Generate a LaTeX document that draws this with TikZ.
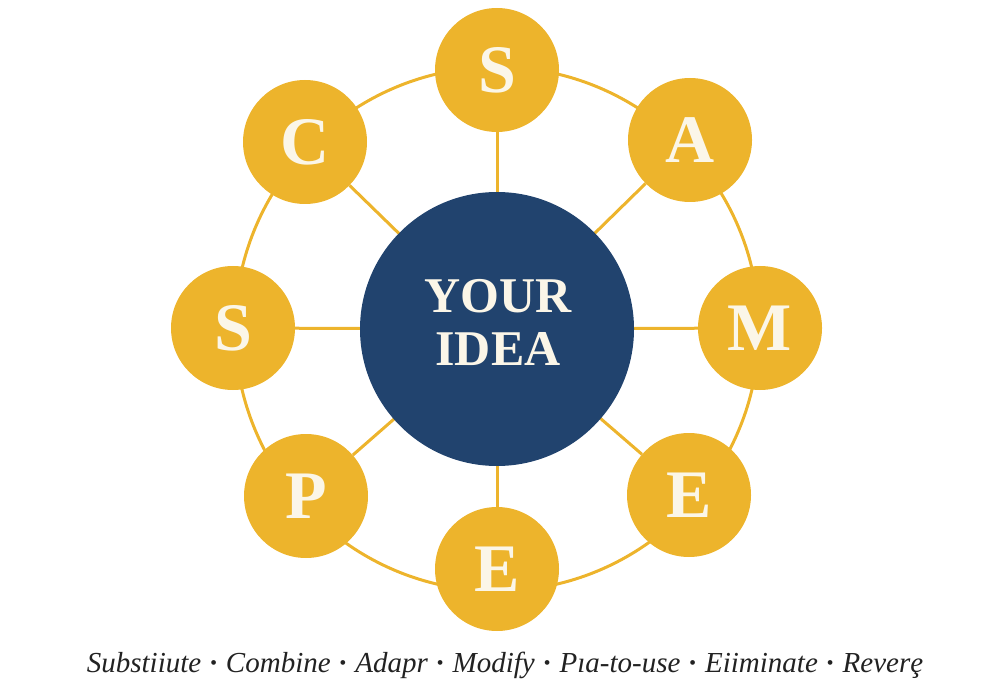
\documentclass[tikz,border=0pt]{standalone}
\usepackage{fontspec}
\setmainfont{Liberation Serif}
\definecolor{gold}{HTML}{EDB42C}
\definecolor{navy}{HTML}{21436E}
\definecolor{cream}{HTML}{FBF6E8}
\definecolor{ink}{HTML}{222222}
\newcommand{\sepdot}{\hspace{0.26em}{\upshape\bfseries ·}\hspace{0.26em}}
\begin{document}
\begin{tikzpicture}[x=1pt,y=-1pt,
  petal/.style={circle,fill=gold,minimum size=124pt,inner sep=0pt,text=cream,
    font=\fontsize{68}{68}\selectfont\bfseries},
  hub/.style={circle,fill=navy,minimum size=274pt,inner sep=0pt},
  hubtext/.style={text=cream,align=center,inner sep=0pt,
    font=\fontsize{50}{53}\selectfont\bfseries},
  link/.style={draw=gold,line width=3pt}]
\useasboundingbox (0,0) rectangle (1000,700);
\coordinate (o) at (497,329);
\draw[link] (o) circle [radius=262];
\node[petal] (s1) at (497,70) {S};
\node[petal] (a) at (690,140) {A};
\node[petal] (m) at (760,328) {M};
\node[petal] (e1) at (689,495) {E};
\node[petal] (e2) at (497,569) {E};
\node[petal] (p) at (306,496) {P};
\node[petal] (s2) at (233,328) {S};
\node[petal] (c) at (305,142) {C};
\foreach \n in {s1,a,m,e1,e2,p,s2,c} \draw[link] (o) -- (\n);
\node[hub] (idea) at (o) {};
\node[hubtext] (ideatext) at (498,322) {YOUR\\IDEA};
\node[text=ink,font=\fontsize{29}{30}\selectfont\itshape,anchor=base] (cap) at (505,672)
  {Substiiute\sepdot Combine\sepdot Adapr\sepdot Modify\sepdot Pıa-to-use\sepdot Eiiminate\sepdot Reverȩ};
\end{tikzpicture}
\end{document}
